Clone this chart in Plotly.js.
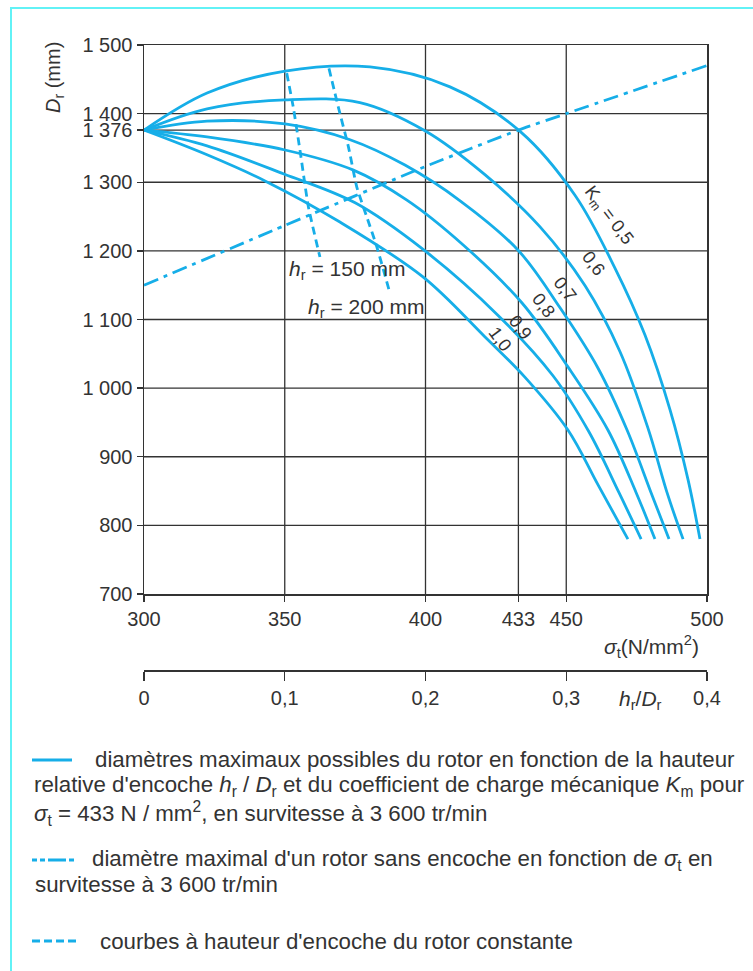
<!DOCTYPE html>
<html>
<head>
<meta charset="utf-8">
<script src="https://cdn.plot.ly/plotly-3.0.1.min.js"></script>
<style>
  html, body { margin:0; padding:0; background:#fff; }
  #frame { position:absolute; left:10px; top:7px; width:760px; height:980px;
           border-left:2px solid #62f2f6; border-top:2px solid #62f2f6; pointer-events:none; z-index:5; }
  #chart { position:absolute; left:0; top:0; width:753px; height:971px; }
</style>
</head>
<body>
<div id="chart"></div>
<div id="frame"></div>
<script>
// ---------- data ----------
const sigmaTicks = [300, 350, 400, 433, 450, 500];
const sigmaTickText = ['300', '350', '400', '433', '450', '500'];
const dTicks = [700, 800, 900, 1000, 1100, 1200, 1300, 1376, 1400, 1500];
const dTickText = ['700', '800', '900', '1 000', '1 100', '1 200', '1 300', '1 376', '1 400', '1 500'];
const hrDrTicks = [0, 0.1, 0.2, 0.3, 0.4];
const hrDrTickText = ['0', '0,1', '0,2', '0,3', '0,4'];
const gridSigma = [350, 400, 450];
const gridD = [800, 900, 1000, 1100, 1200, 1300, 1400];
const sigmaRef = 433;
const dRef = 1376;

// D_r (mm) versus sigma_t (N/mm2) for Km = 0.5 ... 1.0
const km05_x = [300, 322.4, 350.1, 380.3, 408.7, 433.9, 453.1, 467.3, 478.0, 486.9, 493.3, 497.5];
const km05_y = [1376, 1430, 1462, 1468, 1439, 1373, 1281, 1175, 1077, 968, 866, 780];
const km06_x = [300, 322.4, 350.1, 376.7, 399.8, 421.1, 440.7, 456.7, 469.1, 479.0, 486.1, 491.5];
const km06_y = [1376, 1407, 1420, 1416, 1375, 1311, 1235, 1149, 1053, 942, 844, 780];
const km07_x = [300, 322.4, 350.1, 373.2, 392.7, 412.3, 432.9, 447.8, 461.3, 471.6, 480.1, 486.5];
const km07_y = [1376, 1389, 1385, 1362, 1325, 1273, 1201, 1117, 1029, 939, 848, 780];
const km08_x = [300, 322.4, 350.1, 374.2, 393.4, 413.3, 434.3, 450.6, 464.8, 474.8, 481.5];
const km08_y = [1376, 1366, 1347, 1318, 1274, 1209, 1124, 1031, 939, 848, 780];
const km09_x = [300, 322.4, 349.7, 375.0, 399.5, 425.8, 445.3, 458.1, 468.7, 476.6];
const km09_y = [1376, 1353, 1312, 1270, 1201, 1106, 1018, 936, 848, 780];
const km10_x = [300, 322.4, 343.0, 369.6, 399.1, 420.8, 435.3, 450.6, 461.3, 471.9];
const km10_y = [1376, 1340, 1302, 1242, 1162, 1076, 1016, 939, 859, 780];

// rotor without slot
const noSlot_x = [300, 350, 400, 433, 450, 500];
const noSlot_y = [1150, 1237, 1323, 1376, 1400, 1470];

// constant slot height curves
const hr150_x = [350.7, 353, 355.4, 358.4, 362.5];
const hr150_y = [1459, 1410, 1347, 1264, 1191];
const hr200_x = [365.7, 369, 372.6, 375.6, 379.1, 382.7, 387.4];
const hr200_y = [1466, 1410, 1352, 1293, 1250, 1206, 1138];

const kmLabels = ['K<sub>m</sub> = 0,5', '0,6', '0,7', '0,8', '0,9', '1,0'];
const kmLabel_x = [464.7, 459.6, 449.6, 441.8, 433.6, 426.5];
const kmLabel_y = [1251, 1182, 1145, 1121, 1089, 1072];

// ---------- style ----------
const BLUE = '#16aee8';
const INK = '#333333';
const FONT = 'Liberation Sans, Arial, sans-serif';
const LW = 2.8;

const traces = [];
const kmX = [km05_x, km06_x, km07_x, km08_x, km09_x, km10_x];
const kmY = [km05_y, km06_y, km07_y, km08_y, km09_y, km10_y];
kmX.forEach((xs, i) => traces.push({
  x: xs, y: kmY[i], mode: 'lines', type: 'scatter', hoverinfo: 'skip',
  line: { color: BLUE, width: LW, shape: 'spline', smoothing: 1 }, showlegend: false
}));
traces.push({ x: noSlot_x, y: noSlot_y, mode: 'lines', type: 'scatter', hoverinfo: 'skip', showlegend: false,
  line: { color: BLUE, width: LW, dash: '15px,6px,4px,6px', shape: 'spline', smoothing: 0.5 } });
traces.push({ x: hr150_x, y: hr150_y, mode: 'lines', type: 'scatter', hoverinfo: 'skip', showlegend: false,
  line: { color: BLUE, width: LW, dash: '8px,5px', shape: 'spline', smoothing: 0.5 } });
traces.push({ x: hr200_x, y: hr200_y, mode: 'lines', type: 'scatter', hoverinfo: 'skip', showlegend: false,
  line: { color: BLUE, width: LW, dash: '8px,5px', shape: 'spline', smoothing: 0.5 } });
// carrier for the secondary h_r/D_r axis
traces.push({ x: hrDrTicks, y: hrDrTicks.map(() => null), xaxis: 'x2', yaxis: 'y', mode: 'markers',
  marker: { opacity: 0 }, hoverinfo: 'skip', showlegend: false });

// ---------- geometry helpers (paper coords) ----------
const L = 144, R = 707, T = 45, B = 670;
const px = X => (X - L) / (R - L);
const py = Y => (B - Y) / (B - T);

const shapes = [];
gridD.forEach(v => shapes.push({ type: 'line', xref: 'x', yref: 'y', x0: sigmaTicks[0], x1: sigmaTicks[sigmaTicks.length - 1],
  y0: v, y1: v, line: { color: INK, width: 1.3 }, layer: 'below' }));
gridSigma.forEach(v => shapes.push({ type: 'line', xref: 'x', yref: 'y', x0: v, x1: v, y0: dTicks[0], y1: dTicks[dTicks.length - 1],
  line: { color: INK, width: 1.3 }, layer: 'below' }));
shapes.push({ type: 'line', xref: 'x', yref: 'y', x0: sigmaRef, x1: sigmaRef, y0: dTicks[0], y1: dRef, line: { color: INK, width: 1.3 }, layer: 'below' });
shapes.push({ type: 'line', xref: 'x', yref: 'y', x0: sigmaTicks[0], x1: sigmaRef, y0: dRef, y1: dRef, line: { color: INK, width: 1.3 }, layer: 'below' });

// legend swatches
shapes.push({ type: 'line', xref: 'paper', yref: 'paper', x0: px(32), x1: px(72), y0: py(760), y1: py(760), line: { color: BLUE, width: 3 } });
shapes.push({ type: 'line', xref: 'paper', yref: 'paper', x0: px(32), x1: px(76), y0: py(860), y1: py(860), line: { color: BLUE, width: 3, dash: '5px,3px,5px,3px,18px,3px' } });
shapes.push({ type: 'line', xref: 'paper', yref: 'paper', x0: px(32), x1: px(78), y0: py(941), y1: py(941), line: { color: BLUE, width: 3, dash: '8px,4px' } });

const annotations = [];
kmLabels.forEach((t, i) => annotations.push({ x: kmLabel_x[i], y: kmLabel_y[i], xref: 'x', yref: 'y', text: t,
  xanchor: 'center', yanchor: 'middle', showarrow: false, textangle: 53, font: { family: FONT, size: 18, color: INK } }));
annotations.push({ x: px(287), y: py(270), xref: 'paper', yref: 'paper', xanchor: 'left', yanchor: 'middle', text: '<i>h</i><sub>r</sub> = 150 mm',
  showarrow: false, font: { family: FONT, size: 21, color: INK } });
annotations.push({ x: px(306), y: py(308), xref: 'paper', yref: 'paper', xanchor: 'left', yanchor: 'middle', text: '<i>h</i><sub>r</sub> = 200 mm',
  showarrow: false, font: { family: FONT, size: 21, color: INK } });
annotations.push({ x: px(55), y: py(78), xref: 'paper', yref: 'paper', xanchor: 'center', yanchor: 'middle', text: '<i>D</i><sub>r</sub> (mm)', textangle: -90,
  showarrow: false, font: { family: FONT, size: 20, color: INK } });
annotations.push({ x: px(701), y: py(646), xref: 'paper', yref: 'paper', xanchor: 'right', yanchor: 'middle', text: '<i>σ</i><sub>t</sub>(N/mm<sup>2</sup>)',
  showarrow: false, font: { family: FONT, size: 21, color: INK } });
annotations.push({ x: px(640), y: py(700), xref: 'paper', yref: 'paper', xanchor: 'center', yanchor: 'middle', text: '<i>h</i><sub>r</sub>/<i>D</i><sub>r</sub>',
  showarrow: false, font: { family: FONT, size: 21, color: INK } });

const legendFont = { family: FONT, size: 22.3, color: INK };
const legendLines = [
  [93, 760, 'diamètres maximaux possibles du rotor en fonction de la hauteur'],
  [32, 786, "relative d'encoche <i>h</i><sub>r</sub> / <i>D</i><sub>r</sub> et du coefficient de charge mécanique <i>K</i><sub>m</sub> pour"],
  [32, 813, '<i>σ</i><sub>t</sub> = 433 N / mm<sup>2</sup>, en survitesse à 3 600 tr/min'],
  [90, 860, "diamètre maximal d'un rotor sans encoche en fonction de <i>σ</i><sub>t</sub> en"],
  [33, 885, 'survitesse à 3 600 tr/min'],
  [98, 941, "courbes à hauteur d'encoche du rotor constante"]
];
legendLines.forEach(l => annotations.push({ x: px(l[0]), y: py(l[1]), xref: 'paper', yref: 'paper', xanchor: 'left', yanchor: 'middle',
  text: l[2], showarrow: false, font: legendFont }));

const tickFont = { family: FONT, size: 20, color: INK };
const layout = {
  width: 753, height: 971,
  margin: { l: L, r: 753 - R, t: T, b: 971 - B, pad: 0 },
  paper_bgcolor: '#fff', plot_bgcolor: '#fff',
  showlegend: false,
  xaxis: { range: [300, 500], tickvals: sigmaTicks, ticktext: sigmaTickText, showgrid: false, zeroline: false,
    showline: true, mirror: true, linecolor: INK, linewidth: 1.5, ticks: 'outside', ticklen: 6, tickcolor: INK, tickwidth: 1.3,
    tickfont: tickFont, anchor: 'y' },
  xaxis2: { range: [0, 0.4], overlaying: 'x', anchor: 'free', position: 0, side: 'bottom', tickvals: hrDrTicks, ticktext: hrDrTickText,
    showgrid: false, zeroline: false, showline: true, linecolor: INK, linewidth: 1.5, ticks: 'outside', ticklen: 9, tickcolor: INK,
    tickwidth: 1.3, tickfont: tickFont },
  yaxis: { range: [700, 1500], domain: [py(594), 1], tickvals: dTicks, ticktext: dTickText, showgrid: false, zeroline: false,
    showline: true, mirror: true, linecolor: INK, linewidth: 1.5, ticks: 'outside', ticklen: 6, tickcolor: INK, tickwidth: 1.3,
    tickfont: tickFont },
  shapes: shapes,
  annotations: annotations
};

Plotly.newPlot('chart', traces, layout, { staticPlot: true, displayModeBar: false });
</script>
</body>
</html>
